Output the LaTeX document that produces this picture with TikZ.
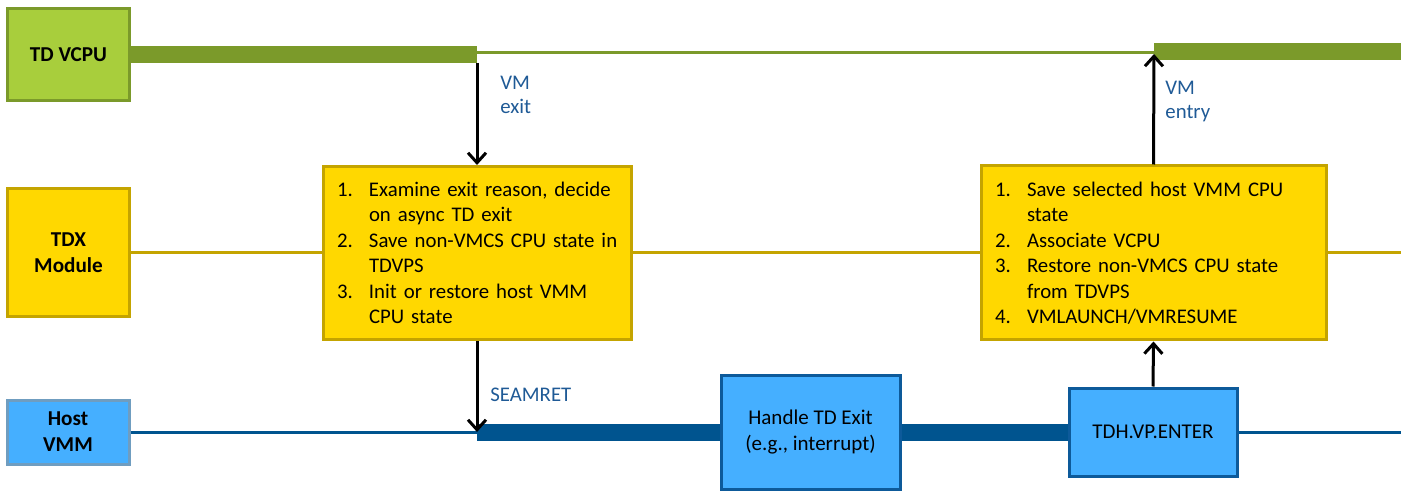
\documentclass[tikz,border=0pt]{standalone}
\usepackage{fontspec}
\setmainfont{Carlito}
\usetikzlibrary{arrows.meta}
\definecolor{vcpufill}{HTML}{A8CE3C}
\definecolor{vcpuline}{HTML}{7B9A2A}
\definecolor{tdxfill}{HTML}{FFD800}
\definecolor{tdxline}{HTML}{C4A400}
\definecolor{hostfill}{HTML}{45AFFF}
\definecolor{hostedge}{HTML}{6F9DC0}
\definecolor{hostline}{HTML}{00548F}
\definecolor{boxedge}{HTML}{0D5A9A}
\definecolor{lblblue}{HTML}{1F5A96}
\newcommand\itm[2]{\makebox[16pt][l]{#1}\mbox{#2}}
\tikzset{
  every node/.style={font=\fontsize{10.4}{12.75}\selectfont},
  lane/.style={draw, line width=1.5pt, minimum width=61pt, align=center, font=\fontsize{10.6}{13}\selectfont\bfseries, inner sep=0pt},
  vcpubox/.style={lane, fill=vcpufill, draw=vcpuline},
  tdxbox/.style={lane, fill=tdxfill, draw=tdxline},
  hostbox/.style={lane, fill=hostfill, draw=hostedge},
  listbox/.style={draw=tdxline, fill=tdxfill, line width=1.5pt, align=left, inner xsep=7pt, inner ysep=0pt},
  actbox/.style={draw=boxedge, fill=hostfill, line width=1.5pt, align=center, inner sep=0pt, font=\fontsize{10.5}{13.3}\selectfont},
  thickg/.style={vcpuline, line width=8.5pt},
  thing/.style={vcpuline, line width=1.5pt},
  tdxwire/.style={tdxline, line width=1.5pt},
  thickb/.style={hostline, line width=8.5pt},
  thinb/.style={hostline, line width=1.5pt},
  flow/.style={black, line width=1.5pt, -{Straight Barb[length=5pt,width=9pt,line width=1.5pt]}},
  lbl/.style={text=lblblue, align=left, inner sep=0pt, anchor=west, font=\fontsize{10.4}{12}\selectfont}
}
\begin{document}
\begin{tikzpicture}[x=0.5pt,y=-0.5pt]
\useasboundingbox (0,0) rectangle (1401,491);
% lane heads
\node[vcpubox, minimum height=46pt] (vcpu) at (68.5,54.5) {TD VCPU};
\node[tdxbox, minimum height=64pt] (tdx) at (68.5,253) {TDX\\Module};
\node[hostbox, minimum height=32pt] (host) at (68,432) {Host\\VMM};
% TDX module boxes
\node[listbox, text width=140pt, minimum height=86.5pt] (exitbox) at (477,253) {%
\itm{1.}{Examine exit reason, decide}\\
\itm{}{on async TD exit}\\
\itm{2.}{Save non-VMCS CPU state in}\\
\itm{}{TDVPS}\\
\itm{3.}{Init or restore host VMM}\\
\itm{}{CPU state}};
\node[listbox, text width=158.5pt, minimum height=87pt] (entrybox) at (1153.5,253) {%
\itm{1.}{Save selected host VMM CPU}\\
\itm{}{state}\\
\itm{2.}{Associate VCPU}\\
\itm{3.}{Restore non-VMCS CPU state}\\
\itm{}{from TDVPS}\\
\itm{4.}{VMLAUNCH/VMRESUME}};
% host boxes
\node[actbox, minimum width=89.5pt, minimum height=57pt] (handle) at (810.5,432) {Handle TD Exit\\(e.g., interrupt)};
\node[actbox, minimum width=84pt, minimum height=44pt] (enter) at (1153,432) {TDH.VP.ENTER};
% coordinates
\coordinate (gA) at (477,54.5);
\coordinate (gA2) at (477,53);
\coordinate (gB) at (1154,53);
\coordinate (gB2) at (1154,52);
\coordinate (gC) at (1401,52);
\coordinate (gtop) at (477,63);
\coordinate (ventry) at (1154,54);
\coordinate (tC) at (1401,253);
\coordinate (bA) at (477,432);
\coordinate (bC) at (1401,432);
% TD VCPU timeline
\draw[thickg] (vcpu.east) -- (gA);
\draw[thing] (gA2) -- (gB);
\draw[thickg] (gB2) -- (gC);
% TDX timeline
\draw[tdxwire] (tdx.east) -- (exitbox.west);
\draw[tdxwire] (exitbox.east) -- (entrybox.west);
\draw[tdxwire] (entrybox.east) -- (tC);
% host timeline
\draw[thinb] (host.east) -- (bA);
\draw[thickb] (bA) -- (handle.west);
\draw[thickb] (handle.east) -- (enter.west);
\draw[thinb] (enter.east) -- (bC);
% arrows
\draw[flow] (gtop) -- (exitbox.north);
\draw[flow] (exitbox.south) -- (bA);
\draw[flow] (enter.north) -- (entrybox.south);
\draw[flow] (entrybox.north) -- (ventry);
% labels
\node[lbl] (lexit) at (500,95) {VM\\exit};
\node[lbl] (lentry) at (1165,102) {VM\\entry};
\node[lbl] (lseam) at (490,395) {SEAMRET};
\end{tikzpicture}
\end{document}
